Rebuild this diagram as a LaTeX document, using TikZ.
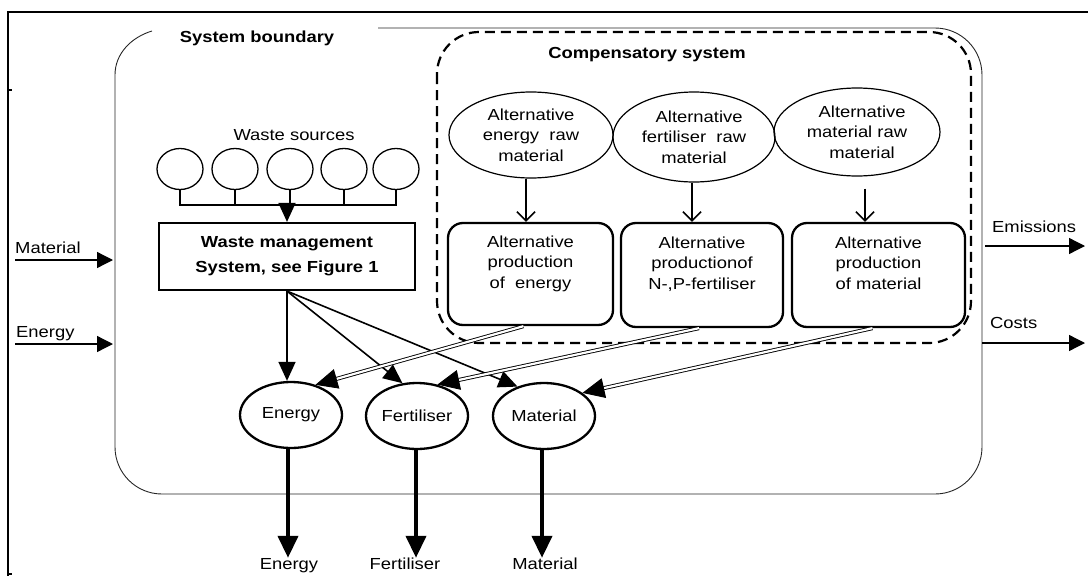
\documentclass[tikz,border=0pt]{standalone}
\usepackage{fontspec}
\setmainfont[FakeStretch=1.15]{Liberation Sans}
\usetikzlibrary{arrows.meta,shapes.geometric,calc}
\tikzset{
  txt/.style={font=\fontsize{16pt}{20.5pt}\selectfont, inner sep=0pt, align=center},
  btxt/.style={font=\fontsize{16pt}{25pt}\selectfont\bfseries, inner sep=0pt, align=center},
  src/.style={ellipse, draw, line width=1.3pt, minimum width=46pt, minimum height=41pt, inner sep=0pt},
  raw/.style={ellipse, draw, line width=1.2pt, inner sep=0pt, txt},
  prod/.style={draw, rounded corners=15pt, line width=2.3pt, inner sep=0pt, txt},
  prd/.style={ellipse, draw, line width=2.3pt, minimum width=102pt, minimum height=66pt, inner sep=0pt, txt},
  wbox/.style={draw, line width=2.2pt, btxt},
  conn/.style={line width=1.6pt, -{Triangle[length=19pt,width=17pt]}},
  stem/.style={line width=1.6pt},
  vconn/.style={line width=1.6pt, -{Straight Barb[length=9pt,width=18pt]}},
  dconn/.style={double, line width=0.9pt, double distance=2.2pt, -{Triangle[length=22pt,width=20pt]}},
  outarrow/.style={line width=4pt, -{Triangle[length=22pt,width=20pt]}},
  io/.style={line width=1.3pt, -{Triangle[length=16pt,width=16pt]}},
  frameline/.style={line width=1.6pt},
  boundary/.style={line width=0.9pt, black!85},
  compens/.style={line width=2.2pt, dash pattern=on 10pt off 6pt, rounded corners=42pt},
}
\begin{document}
\begin{tikzpicture}[x=1pt,y=-1pt]
\useasboundingbox (0,0) rectangle (1088,576);
% outer frame
\draw[frameline] (8,576) -- (8,12) -- (1088,12);
\draw[frameline] (8,90) -- (12,90);
\draw[frameline] (8,574) -- (12,574);
% system boundary
\draw[boundary] (378,28) -- (935,28) .. controls (961,28) and (982,49) .. (982,75)
  -- (982,447) .. controls (982,473) and (961,494) .. (935,494)
  -- (162,494) .. controls (136,494) and (115,473) .. (115,447)
  -- (115,75) .. controls (115,53) and (132,37) .. (152,31);
\node[btxt] (sbl) at (257,38) {System boundary};
% compensatory system
\draw[compens] (437,32) rectangle (971,343);
\node[btxt] (csl) at (647,55) {Compensatory system};
% waste sources
\node[txt] (wsl) at (294,135) {Waste sources};
\node[src] (w1) at (180,169) {};
\node[src] (w2) at (235,169) {};
\node[src] (w3) at (290,169) {};
\node[src] (w4) at (344,169) {};
\node[src] (w5) at (396,169) {};
\coordinate (bar) at (0,205);
\node[wbox, minimum width=256pt, minimum height=67pt] (wm) at (287,256.5) {Waste management\\System, see Figure 1};
\foreach \i in {1,...,5} \draw[stem] (w\i.south) -- (w\i.south |- bar);
\draw[stem, line cap=rect] (w1.south |- bar) -- (w5.south |- bar);
\draw[conn] (wm.north |- bar) -- (wm.north);
% compensatory raw materials
\node[raw, minimum width=164pt, minimum height=86pt] (e1) at (531,135) {Alternative\\energy\ \ raw\\material};
\node[raw, minimum width=162pt, minimum height=90pt] (e2) at (694,137) {\ \ Alternative\\fertiliser\ \ raw\\material};
\node[raw, minimum width=166pt, minimum height=88pt] (e3) at (857,132) {\ \ Alternative\\material raw\\\ \ material};
% alternative production
\node[prod, minimum width=165pt, minimum height=102pt] (b1) at (530.5,274) {Alternative\\production\\of\ \ energy\\[4pt]};
\node[prod, minimum width=162pt, minimum height=104pt] (b2) at (702,275) {Alternative\\productionof\\N-,P-fertiliser\\[4pt]};
\node[prod, minimum width=173pt, minimum height=104pt] (b3) at (878.5,275) {Alternative\\production\\of material\\[4pt]};
\draw[vconn] ([xshift=-5pt]e1.south) -- ([xshift=-5pt]e1.south |- b1.north);
\draw[vconn] ([xshift=-2pt]e2.south) -- ([xshift=-2pt]e2.south |- b2.north);
\draw[vconn] ([xshift=8pt,yshift=-12pt]e3.south) -- ([xshift=8pt]e3.south |- b3.north);
% products
\node[prd] (en) at (291,415) {Energy};
\node[prd] (fe) at (417,416) {Fertiliser};
\node[prd] (ma) at (544,416) {Material};
\draw[conn] (wm.south) -- (wm.south |- en.north);
\draw[conn] (wm.south) -- (fe.114);
\draw[conn] (wm.south) -- (ma.132);
\draw[dconn] ([xshift=-7pt]b1.south) -- (en.51);
\draw[dconn] ([xshift=-3pt]b2.south) -- (fe.57);
\draw[dconn] ([xshift=-6pt]b3.south) -- (ma.31);
% outputs
\node[txt, anchor=base] (oe) at (289,569) {Energy};
\node[txt, anchor=base] (of) at (405,569) {Fertiliser};
\node[txt, anchor=base] (om) at (545,569) {Material};
\draw[outarrow] ([xshift=-3pt]en.south) -- ([xshift=-3pt]en.south |- oe.north);
\draw[outarrow] ([xshift=-1pt]fe.south) -- ([xshift=-1pt]fe.south |- oe.north);
\draw[outarrow] ([xshift=-2pt]ma.south) -- ([xshift=-2pt]ma.south |- oe.north);
% inputs and outputs of the system
\node[txt, anchor=base west] (lmat) at (15,253) {Material};
\coordinate (mat0) at (15,260);
\coordinate (mat1) at (113,260);
\draw[io] (mat0) -- (mat1);
\node[txt, anchor=base west] (lene) at (16,337) {Energy};
\coordinate (ene0) at (15,344);
\coordinate (ene1) at (113,344);
\draw[io] (ene0) -- (ene1);
\node[txt, anchor=base west] (lemi) at (992,232) {Emissions};
\coordinate (emi0) at (985,246);
\coordinate (emi1) at (1085,246);
\draw[io] (emi0) -- (emi1);
\node[txt, anchor=base west] (lcos) at (990,328) {Costs};
\coordinate (cos0) at (982,343);
\coordinate (cos1) at (1085,343);
\draw[io] (cos0) -- (cos1);
\end{tikzpicture}
\end{document}
